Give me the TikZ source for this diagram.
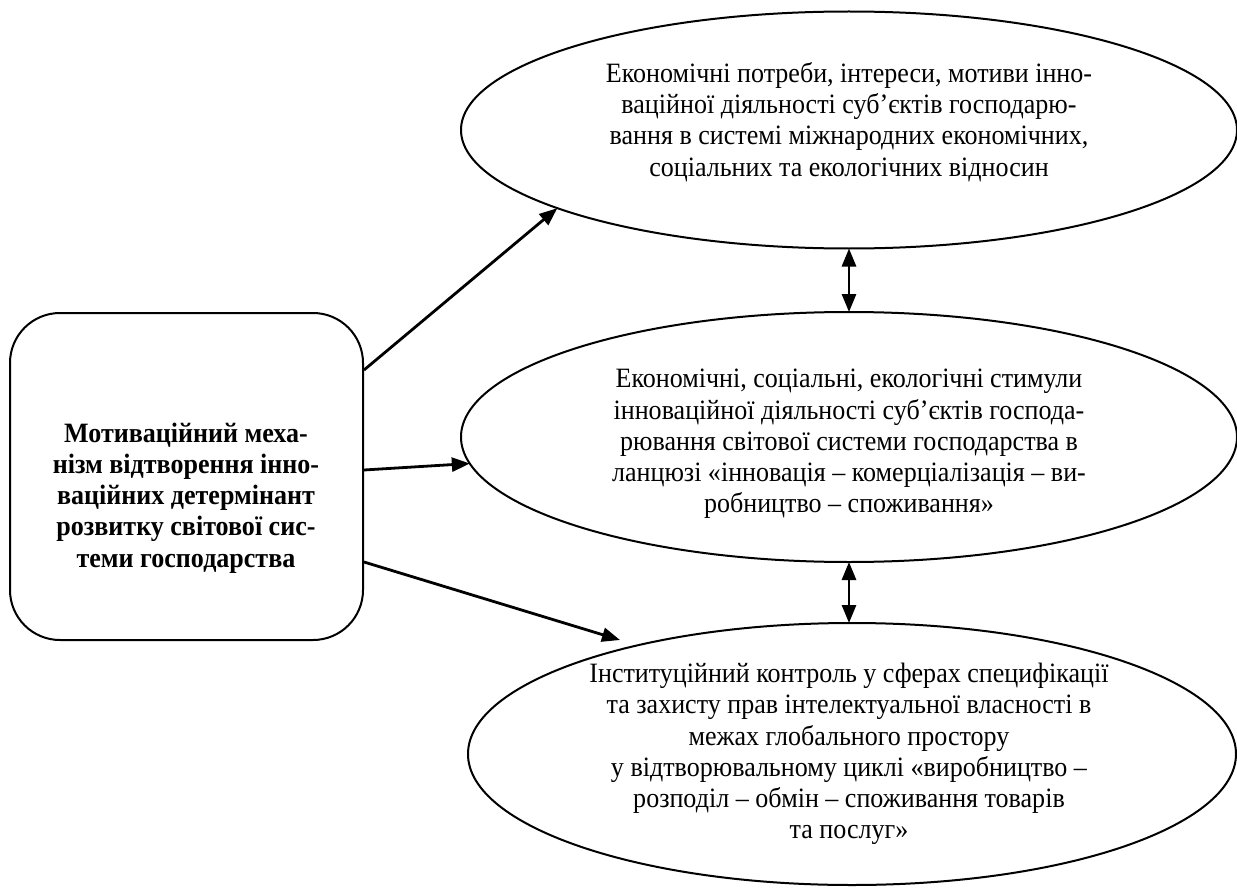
\documentclass[tikz,border=0pt]{standalone}
\usepackage{fontspec}
\setmainfont{Liberation Serif}[FakeStretch=0.93]
\usetikzlibrary{shapes.geometric,arrows.meta,calc}
\begin{document}
\begin{tikzpicture}[x=0.5pt,y=-0.5pt,
  oval/.style={draw,ellipse,line width=1pt,inner sep=0pt,outer sep=0pt},
  txt/.style={align=center,font=\fontsize{14}{15.6}\selectfont,inner sep=0pt},
  arr/.style={line width=1.4pt,-{Triangle[length=9pt,width=7pt]}},
  darr/.style={line width=1.4pt,{Triangle[length=9pt,width=7pt]}-{Triangle[length=9pt,width=7pt]}}]
\useasboundingbox (0,0) rectangle (1237,888);
\node[oval,minimum width=388pt,minimum height=118.5pt] (e1) at (849,130) {};
\node[oval,minimum width=388pt,minimum height=125pt] (e2) at (849,437) {};
\node[oval,minimum width=384pt,minimum height=131pt] (e3) at (852,754) {};
\node[draw,line width=1pt,rounded corners=25pt,minimum width=176.5pt,minimum height=163.5pt,inner sep=0pt] (box) at (186.5,476.5) {};
\node[txt] (t1) at (849,122) {Економічні потреби, інтереси, мотиви інно-\\вацiйної діяльності суб’єктів господарю-\\вання в системі міжнародних економічних,\\соціальних та екологічних відносин};
\node[txt] (t2) at (849,444) {Економічні, соціальні, екологічні стимули\\інноваційної діяльності суб’єктів господа-\\рювання світової системи господарства в\\ланцюзі «інновація – комерціалізація – ви-\\робництво – споживання»};
\node[txt] (t3) at (849,754) {Інституційний контроль у сферах специфікації\\та захисту прав інтелектуальної власності в\\межах глобального простору\\у відтворювальному циклі «виробництво –\\розподіл – обмін – споживання товарів\\та послуг»};
\node[txt,font=\fontsize{14}{15.6}\selectfont\bfseries] (t0) at (186,498) {Мотиваційний меха-\\нізм відтворення інно-\\ваційних детермінант\\розвитку світової сис-\\теми господарства};
\coordinate (a3) at (620,640);
\draw[arr] ($(box.east)+(0,-106.5)$) -- (e1.195);
\draw[arr] ($(box.east)+(0,-6.5)$) -- (e2.184);
\draw[arr] ($(box.east)+(0,85.5)$) -- (a3);
\draw[darr] (e1.south) -- (e2.north);
\draw[darr] (e2.south) -- (e3.north -| e2.south);
\end{tikzpicture}
\end{document}
